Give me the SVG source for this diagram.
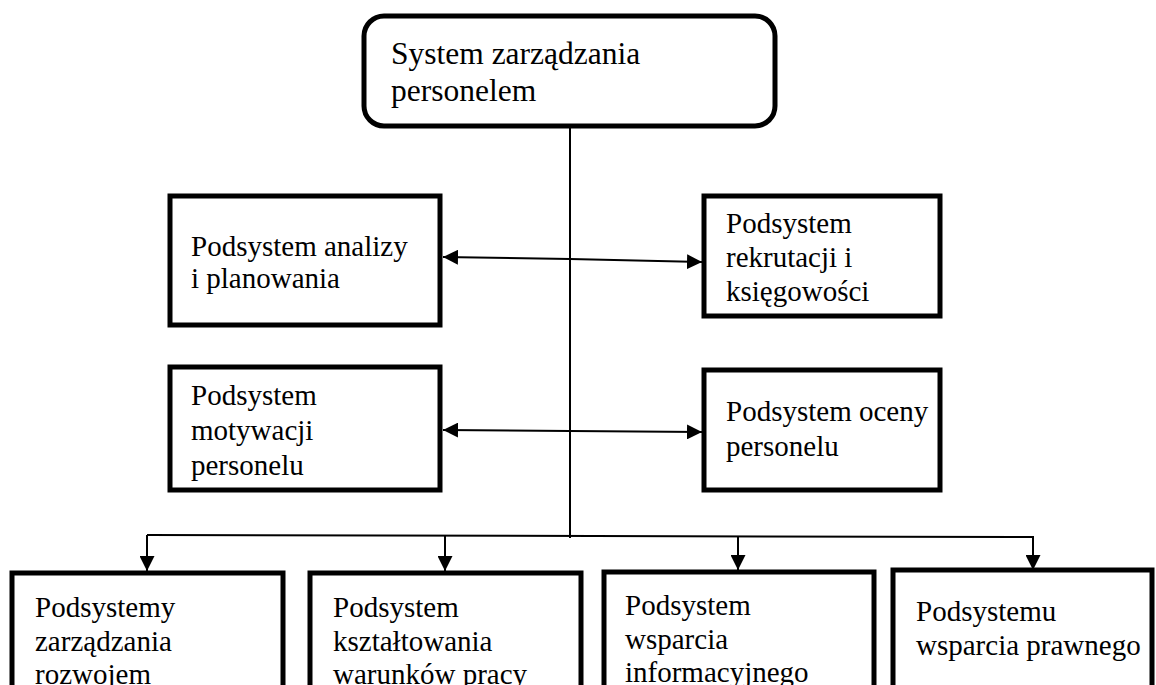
<svg xmlns="http://www.w3.org/2000/svg" width="1156" height="685" viewBox="0 0 1156 685">
<style>
.box{fill:#fff;stroke:#000;stroke-width:5}
.t{font-family:"Liberation Serif","Times New Roman",serif;font-size:29px;fill:#000}
.tt{font-family:"Liberation Serif","Times New Roman",serif;font-size:31.5px;fill:#000}
.ln{fill:none;stroke:#000;stroke-width:2}
</style>
<defs>
<marker id="ah" viewBox="0 0 10 10" refX="10" refY="5" markerWidth="15" markerHeight="15" markerUnits="userSpaceOnUse" orient="auto-start-reverse">
<path d="M0,0 L10,5 L0,10 z" fill="#000"/>
</marker>
<clipPath id="cB"><rect x="706" y="198" width="232" height="115"/></clipPath>
<clipPath id="cC"><rect x="172" y="369" width="266" height="118"/></clipPath>
</defs>
<g id="connectors">
<line class="ln" x1="570" y1="127" x2="570" y2="538"/>
<line class="ln" x1="570" y1="259" x2="443" y2="257" marker-end="url(#ah)"/>
<line class="ln" x1="570" y1="259" x2="702" y2="262" marker-end="url(#ah)"/>
<line class="ln" x1="570" y1="431" x2="443" y2="430" marker-end="url(#ah)"/>
<line class="ln" x1="570" y1="431" x2="702" y2="432" marker-end="url(#ah)"/>
<polyline class="ln" points="147,535 1033,537 1033,570" marker-end="url(#ah)"/>
<line class="ln" x1="147" y1="535" x2="147" y2="571" marker-end="url(#ah)"/>
<line class="ln" x1="445" y1="536" x2="445" y2="571" marker-end="url(#ah)"/>
<line class="ln" x1="738" y1="537" x2="738" y2="570" marker-end="url(#ah)"/>
</g>
<g id="top">
<rect class="box" x="364" y="16" width="411" height="110" rx="20"/>
<text class="tt" x="391" y="64">System zarządzania</text>
<text class="tt" x="391" y="101">personelem</text>
</g>
<g id="analizy">
<rect class="box" x="170" y="196" width="270" height="129"/>
<text class="t" x="191" y="256">Podsystem analizy</text>
<text class="t" x="191" y="288">i planowania</text>
</g>
<g id="rekrutacji">
<rect class="box" x="704" y="196" width="236" height="120"/>
<g clip-path="url(#cB)">
<text class="t" x="726" y="233">Podsystem</text>
<text class="t" x="726" y="267">rekrutacji i</text>
<text class="t" x="726" y="301">księgowości</text>
</g>
</g>
<g id="motywacji">
<rect class="box" x="170" y="367" width="270" height="123"/>
<g clip-path="url(#cC)">
<text class="t" x="191" y="405">Podsystem</text>
<text class="t" x="191" y="440">motywacji</text>
<text class="t" x="191" y="475">personelu</text>
</g>
</g>
<g id="oceny">
<rect class="box" x="704" y="370" width="236" height="120"/>
<text class="t" x="726" y="421">Podsystem oceny</text>
<text class="t" x="726" y="456">personelu</text>
</g>
<g id="rozwoj">
<rect class="box" x="12" y="573" width="271" height="130"/>
<text class="t" x="35" y="617">Podsystemy</text>
<text class="t" x="35" y="651">zarządzania</text>
<text class="t" x="35" y="684">rozwojem</text>
</g>
<g id="warunki">
<rect class="box" x="310" y="573" width="271" height="130"/>
<text class="t" x="333" y="617">Podsystem</text>
<text class="t" x="333" y="651">kształtowania</text>
<text class="t" x="333" y="684">warunków pracy</text>
</g>
<g id="informacja">
<rect class="box" x="604" y="572" width="270" height="130"/>
<text class="t" x="625" y="615">Podsystem</text>
<text class="t" x="625" y="649">wsparcia</text>
<text class="t" x="625" y="682">informacyjnego</text>
</g>
<g id="prawo">
<rect class="box" x="893" y="570" width="259" height="130"/>
<text class="t" x="916" y="621">Podsystemu</text>
<text class="t" x="916" y="655">wsparcia prawnego</text>
</g>
</svg>
